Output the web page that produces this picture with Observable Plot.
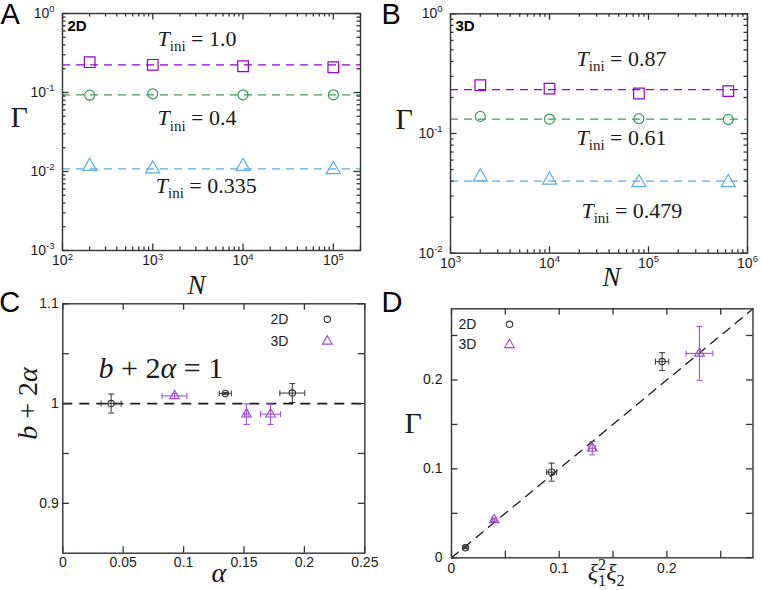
<!DOCTYPE html>
<html><head><meta charset="utf-8">
<script src="https://cdn.jsdelivr.net/npm/d3@7"></script>
<script src="https://cdn.jsdelivr.net/npm/@observablehq/plot@0.6"></script>
<style>
body{margin:0;background:#fff;}
#fig{position:relative;width:762px;height:590px;overflow:hidden;background:#fff;}
#fig svg{position:absolute;overflow:visible;background:transparent;}
</style></head><body><div id="fig"></div>
<script>
// ---------- Panel A (2D) ----------
const nA = [200, 1000, 10000, 100000];
const gammaA_T10 = [0.242, 0.224, 0.215, 0.209];
const gammaA_T04 = [0.0924, 0.0963, 0.0935, 0.0935];
const gammaA_T0335 = [0.0116, 0.0108, 0.0116, 0.0106];
const fitA = [0.224, 0.0935, 0.0108];
const labelsA = ["*T*_{ini} = 1.0", "*T*_{ini} = 0.4", "*T*_{ini} = 0.335"];
const xTicksA = [1e2, 1e3, 1e4, 1e5];
const yTicksA = [1e-3, 1e-2, 1e-1, 1];

// ---------- Panel B (3D) ----------
const nB = [2000, 10000, 80000, 640000];
const gammaB_T087 = [0.253, 0.237, 0.216, 0.226];
const gammaB_T061 = [0.139, 0.132, 0.133, 0.131];
const gammaB_T0479 = [0.0435, 0.0408, 0.0389, 0.0389];
const fitB = [0.233, 0.132, 0.040];
const labelsB = ["*T*_{ini} = 0.87", "*T*_{ini} = 0.61", "*T*_{ini} = 0.479"];
const xTicksB = [1e3, 1e4, 1e5, 1e6];
const yTicksB = [1e-2, 1e-1, 1];

// ---------- Panel C ----------
const c2D_alpha = [0.040, 0.1345, 0.190];
const c2D_alphaErr = [0.0083, 0.005, 0.0103];
const c2D_val = [1.000, 1.0102, 1.0105];
const c2D_valErr = [0.0095, 0.001, 0.0095];
const c3D_alpha = [0.0925, 0.152, 0.172];
const c3D_alphaErr = [0.0103, 0.0015, 0.0083];
const c3D_val = [1.0077, 0.9894, 0.9894];
const c3D_valErr = [0.0025, 0.0103, 0.0103];
const cRef = [1];
const cXTicks = [0, 0.05, 0.1, 0.15, 0.2, 0.25];
const cYTicks = [0.9, 0.95, 1, 1.05, 1.1];
const cYLabels = [0.9, 1, 1.1];

// ---------- Panel D ----------
const d2D_x = [0.013, 0.093, 0.1956];
const d2D_xErr = [0.0015, 0.0046, 0.0062];
const d2D_y = [0.0112, 0.0963, 0.2206];
const d2D_yErr = [0.001, 0.0101, 0.0101];
const d3D_x = [0.0396, 0.1307, 0.2303];
const d3D_xErr = [0.002, 0.003, 0.0124];
const d3D_y = [0.0427, 0.1232, 0.2299];
const d3D_yErr = [0.002, 0.0075, 0.0303];
const dDomain = [0, 0.28];
const dTicks = [0, 0.05, 0.1, 0.15, 0.2, 0.25];
const dLabels = [0, 0.1, 0.2];

const legendLabels = ["2D", "3D"];
const panelLetters = ["A", "B", "C", "D"];

// ---------- styles ----------
const SANS = "Liberation Sans, Arial, Helvetica, sans-serif";
const SERIF = "Liberation Serif, Times New Roman, serif";
const PURPLE = "#9400d3", GREEN = "#3c9a5e", BLUE = "#5aaee2";
const DARK = "#333333", PURPLE2 = "#9a45d0";
const FRAME = "#333333";

const logLabel = d => "10^{" + Math.round(Math.log10(d)) + "}";
function minorLog(lo, hi, max) {
  const out = [];
  for (let e = lo; e < hi; e++) for (let m = 2; m <= 9; m++) { const v = m * 10 ** e; if (v <= max) out.push(v); }
  return out;
}

// inward ticks: tick marks spanning the frame, inset so only a short stub at each edge remains
function edgeTicks(vals, len, isX, dims) {
  const fw = dims.width - dims.marginLeft - dims.marginRight;
  const fh = dims.height - dims.marginTop - dims.marginBottom;
  const o = {stroke: FRAME, strokeWidth: 1.3};
  if (isX) return [
    Plot.tickX(vals, {...o, x: d => d, insetTop: fh - len}),
    Plot.tickX(vals, {...o, x: d => d, insetBottom: fh - len})
  ];
  return [
    Plot.tickY(vals, {...o, y: d => d, insetRight: fw - len}),
    Plot.tickY(vals, {...o, y: d => d, insetLeft: fw - len})
  ];
}
function frameAxes(dims, {xMajor, xMinor = [], yMajor, yMinor = [], xLabels, yLabels, xFmt, yFmt, xPad = 4, yPad = 5, major = 6.5, minor = 3.5}) {
  const common = {label: null, fontSize: 14, fontFamily: SANS};
  return [
    Plot.axisX(xLabels, {...common, anchor: "bottom", tickSize: 0, tickPadding: xPad, tickFormat: xFmt}),
    Plot.axisY(yLabels, {...common, anchor: "left", tickSize: 0, tickPadding: yPad, tickFormat: yFmt}),
    ...edgeTicks(xMajor, major, true, dims),
    ...(xMinor.length ? edgeTicks(xMinor, minor, true, dims) : []),
    ...edgeTicks(yMajor, major, false, dims),
    ...(yMinor.length ? edgeTicks(yMinor, minor, false, dims) : [])
  ];
}

function rows(xs, ys) { return xs.map((x, i) => ({x, y: ys[i]})); }
function errRows(xs, xe, ys, ye) { return xs.map((x, i) => ({x, xe: xe[i], y: ys[i], ye: ye[i]})); }

const capH = {draw(ctx) { ctx.moveTo(-3, 0); ctx.lineTo(3, 0); }};
const capV = {draw(ctx) { ctx.moveTo(0, -3); ctx.lineTo(0, 3); }};

function errorMarks(data, color, symbol, r) {
  return [
    Plot.ruleX(data, {x: "x", y1: d => d.y - d.ye, y2: d => d.y + d.ye, stroke: color, strokeWidth: 1}),
    Plot.ruleY(data, {y: "y", x1: d => d.x - d.xe, x2: d => d.x + d.xe, stroke: color, strokeWidth: 1}),
    Plot.dot(data, {x: "x", y: d => d.y - d.ye, symbol: capH, stroke: color, strokeWidth: 1}),
    Plot.dot(data, {x: "x", y: d => d.y + d.ye, symbol: capH, stroke: color, strokeWidth: 1}),
    Plot.dot(data, {x: d => d.x - d.xe, y: "y", symbol: capV, stroke: color, strokeWidth: 1}),
    Plot.dot(data, {x: d => d.x + d.xe, y: "y", symbol: capV, stroke: color, strokeWidth: 1}),
    Plot.dot(data, {x: "x", y: "y", symbol, r, stroke: color, strokeWidth: 1.1, fill: "none"})
  ];
}

function label(text, opts) {
  return Plot.text([text], {text: d => d, fill: "#1a1a1a", lineAnchor: "middle", ...opts});
}
function letter(text, dx, dy) {
  return Plot.text([text], {text: d => d, frameAnchor: "top-left", dx, dy, textAnchor: "start", lineAnchor: "top", fontSize: 29, fontFamily: SANS, fill: "#000"});
}

const base = {style: {background: "transparent", color: "#1a1a1a", overflow: "visible"}};

// ---------- build A ----------
const dimsA = {width: 381, height: 295, marginLeft: 62, marginRight: 21, marginTop: 13, marginBottom: 45};
const plotA = Plot.plot({
  ...base, ...dimsA,
  x: {type: "log", domain: [100, 2e5], axis: null},
  y: {type: "log", domain: [1e-3, 1], axis: null},
  marks: [
    Plot.ruleY([fitA[0]], {stroke: PURPLE, strokeDasharray: "8,6", strokeWidth: 1.2}),
    Plot.ruleY([fitA[1]], {stroke: GREEN, strokeDasharray: "8,6", strokeWidth: 1.2}),
    Plot.ruleY([fitA[2]], {stroke: BLUE, strokeDasharray: "8,6", strokeWidth: 1.2}),
    Plot.dot(rows(nA, gammaA_T10), {x: "x", y: "y", symbol: "square", r: 6, stroke: PURPLE, strokeWidth: 1.2}),
    Plot.dot(rows(nA, gammaA_T04), {x: "x", y: "y", symbol: "circle", r: 5, stroke: GREEN, strokeWidth: 1.2}),
    Plot.dot(rows(nA, gammaA_T0335), {x: "x", y: "y", symbol: "triangle", r: 5.2, stroke: BLUE, strokeWidth: 1.2}),
    label(labelsA[0], {x: 1130, y: 0.48, textAnchor: "start", fontSize: 22, fontFamily: SERIF}),
    label(labelsA[1], {x: 1130, y: 0.047, textAnchor: "start", fontSize: 22, fontFamily: SERIF}),
    label(labelsA[2], {x: 1080, y: 0.0066, textAnchor: "start", fontSize: 22, fontFamily: SERIF}),
    label(legendLabels[0], {frameAnchor: "top-left", dx: 5, dy: 13, textAnchor: "start", fontSize: 15, fontWeight: "bold", fontFamily: SANS, fill: "#000"}),
    label("*N*", {frameAnchor: "bottom", dx: -15, dy: 35, fontSize: 27, fontFamily: SERIF}),
    label("Γ", {frameAnchor: "left", dx: -52, dy: -14.5, fontSize: 30, fontFamily: SERIF}),
    letter(panelLetters[0], -62, -10),
    ...frameAxes(dimsA, {xMajor: xTicksA, xMinor: minorLog(2, 6, 2e5), yMajor: yTicksA, yMinor: minorLog(-3, 0, 1),
      xLabels: xTicksA, yLabels: yTicksA, xFmt: logLabel, yFmt: logLabel, xPad: 5, yPad: 8}),
    Plot.frame({stroke: FRAME, strokeWidth: 1.4})
  ]
});

// ---------- build B ----------
const dimsB = {width: 381, height: 295, marginLeft: 69, marginRight: 15, marginTop: 13.3, marginBottom: 42.3};
const plotB = Plot.plot({
  ...base, ...dimsB,
  x: {type: "log", domain: [1e3, 1e6], axis: null},
  y: {type: "log", domain: [1e-2, 1], axis: null},
  marks: [
    Plot.ruleY([fitB[0]], {stroke: PURPLE, strokeDasharray: "8,6", strokeWidth: 1.2}),
    Plot.ruleY([fitB[1]], {stroke: GREEN, strokeDasharray: "8,6", strokeWidth: 1.2}),
    Plot.ruleY([fitB[2]], {stroke: BLUE, strokeDasharray: "8,6", strokeWidth: 1.2}),
    Plot.dot(rows(nB, gammaB_T087), {x: "x", y: "y", symbol: "square", r: 6, stroke: PURPLE, strokeWidth: 1.2}),
    Plot.dot(rows(nB, gammaB_T061), {x: "x", y: "y", symbol: "circle", r: 5, stroke: GREEN, strokeWidth: 1.2}),
    Plot.dot(rows(nB, gammaB_T0479), {x: "x", y: "y", symbol: "triangle", r: 5.2, stroke: BLUE, strokeWidth: 1.2}),
    label(labelsB[0], {x: 18750, y: 0.423, textAnchor: "start", fontSize: 22, fontFamily: SERIF}),
    label(labelsB[1], {x: 18750, y: 0.0926, textAnchor: "start", fontSize: 22, fontFamily: SERIF}),
    label(labelsB[2], {x: 21000, y: 0.0227, textAnchor: "start", fontSize: 22, fontFamily: SERIF}),
    label(legendLabels[1], {frameAnchor: "top-left", dx: 5, dy: 12.7, textAnchor: "start", fontSize: 15, fontWeight: "bold", fontFamily: SANS, fill: "#000"}),
    label("*N*", {frameAnchor: "bottom", dx: 12.5, dy: 24.5, fontSize: 27, fontFamily: SERIF}),
    label("Γ", {frameAnchor: "left", dx: -55, dy: -14, fontSize: 30, fontFamily: SERIF}),
    letter(panelLetters[1], -69, -10.3),
    ...frameAxes(dimsB, {xMajor: xTicksB, xMinor: minorLog(3, 6, 1e6), yMajor: yTicksB, yMinor: minorLog(-2, 0, 1),
      xLabels: xTicksB, yLabels: yTicksB, xFmt: logLabel, yFmt: logLabel, xPad: 5, yPad: 8}),
    Plot.frame({stroke: FRAME, strokeWidth: 1.4})
  ]
});

// ---------- build C ----------
const c2D = errRows(c2D_alpha, c2D_alphaErr, c2D_val, c2D_valErr);
const c3D = errRows(c3D_alpha, c3D_alphaErr, c3D_val, c3D_valErr);
const dimsC = {width: 381, height: 310, marginLeft: 62.3, marginRight: 16.7, marginTop: 23.3, marginBottom: 37.3};
const plotC = Plot.plot({
  ...base, ...dimsC,
  x: {domain: [0, 0.25], axis: null},
  y: {domain: [0.85, 1.1], axis: null},
  marks: [
    Plot.ruleY(cRef, {stroke: "#1a1a1a", strokeDasharray: "10,7", strokeWidth: 1.8}),
    ...errorMarks(c2D, DARK, "circle", 3.2),
    ...errorMarks(c3D, PURPLE2, "triangle", 3.6),
    label(legendLabels[0], {frameAnchor: "top-right", dx: -94.3, dy: 16, textAnchor: "start", fontSize: 14, fontFamily: SANS}),
    label(legendLabels[1], {frameAnchor: "top-right", dx: -94.3, dy: 37.7, textAnchor: "start", fontSize: 14, fontFamily: SANS}),
    Plot.dot([legendLabels[0]], {frameAnchor: "top-right", dx: -37.5, dy: 15.5, symbol: "circle", r: 3.2, stroke: DARK, strokeWidth: 1.1}),
    Plot.dot([legendLabels[1]], {frameAnchor: "top-right", dx: -37.5, dy: 37.5, symbol: "triangle", r: 3.6, stroke: PURPLE2, strokeWidth: 1.1}),
    label("*b* + 2*α* = 1", {x: 0.0296, y: 1.0356, textAnchor: "start", fontSize: 30, fontFamily: SERIF}),
    label("*α*", {frameAnchor: "bottom", dx: 5, dy: 20, fontSize: 28, fontFamily: SERIF}),
    label("*b* + 2*α*", {x: 0, y: 1, dx: -35, rotate: -90, fontSize: 28, fontFamily: SERIF}),
    letter(panelLetters[2], -63.5, -12.8),
    ...frameAxes(dimsC, {xMajor: cXTicks, yMajor: cYTicks, xLabels: cXTicks, yLabels: cYLabels,
      xFmt: d => String(d), yFmt: d => String(d), xPad: 4, yPad: 4}),
    Plot.frame({stroke: FRAME, strokeWidth: 1.4})
  ]
});

// ---------- build D ----------
const d2D = errRows(d2D_x, d2D_xErr, d2D_y, d2D_yErr);
const d3D = errRows(d3D_x, d3D_xErr, d3D_y, d3D_yErr);
const dimsD = {width: 381, height: 310, marginLeft: 70, marginRight: 9.5, marginTop: 28.3, marginBottom: 32.7};
const plotD = Plot.plot({
  ...base, ...dimsD,
  x: {domain: dDomain, axis: null},
  y: {domain: dDomain, axis: null},
  marks: [
    Plot.line(dDomain, {x: d => d, y: d => d, stroke: "#1a1a1a", strokeDasharray: "9,7", strokeWidth: 1.3}),
    ...errorMarks(d2D, DARK, "circle", 3.2),
    ...errorMarks(d3D, PURPLE2, "triangle", 3.6),
    label(legendLabels[0], {frameAnchor: "top-left", dx: 7, dy: 15.7, textAnchor: "start", fontSize: 14, fontFamily: SANS}),
    label(legendLabels[1], {frameAnchor: "top-left", dx: 7, dy: 36, textAnchor: "start", fontSize: 14, fontFamily: SANS}),
    Plot.dot([legendLabels[0]], {frameAnchor: "top-left", dx: 58, dy: 15.5, symbol: "circle", r: 3.2, stroke: DARK, strokeWidth: 1.1}),
    Plot.dot([legendLabels[1]], {frameAnchor: "top-left", dx: 58, dy: 36, symbol: "triangle", r: 3.6, stroke: PURPLE2, strokeWidth: 1.1}),
    label("*ξ*_{1}^{2}*ξ*_{2}", {frameAnchor: "bottom", dx: 4, dy: 15, fontSize: 24, fontFamily: SERIF}),
    label("Γ", {frameAnchor: "left", dx: -47, dy: -10, fontSize: 30, fontFamily: SERIF}),
    letter(panelLetters[3], -70, -17.8),
    ...frameAxes(dimsD, {xMajor: dTicks, yMajor: dTicks, xLabels: dLabels, yLabels: dLabels,
      xFmt: d => String(d), yFmt: d => String(d), xPad: 5, yPad: 9}),
    Plot.frame({stroke: FRAME, strokeWidth: 1.4})
  ]
});

// ---------- place ----------
const fig = document.getElementById("fig");
const place = [[plotA, 0, 0], [plotB, 381, 0], [plotC, 0, 280], [plotD, 381, 280]];
for (const [p, left, top] of place) {
  p.style.left = left + "px";
  p.style.top = top + "px";
  fig.appendChild(p);
}

// ---------- rich text (italic / sub / sup) as real SVG tspans ----------
function parseRich(s) {
  const segs = []; let italic = false, shift = 0, buf = "";
  const push = () => { if (buf) segs.push({t: buf, italic, shift}); buf = ""; };
  for (let i = 0; i < s.length; i++) {
    const c = s[i];
    if (c === "*") { push(); italic = !italic; }
    else if ((c === "_" || c === "^") && s[i + 1] === "{") { push(); shift = c === "_" ? -1 : 1; i++; }
    else if (c === "}" && shift) { push(); shift = 0; }
    else buf += c;
  }
  push();
  return segs;
}
function richify(svg) {
  svg.querySelectorAll("text").forEach(el => {
    if (el.querySelector("tspan")) return;
    const s = el.textContent;
    if (!/\*|[_^]\{/.test(s)) return;
    const fs = parseFloat(getComputedStyle(el).fontSize) || 14;
    const segs = parseRich(s);
    el.textContent = "";
    let cur = 0, prev = null, prevShift = 0;
    for (const seg of segs) {
      const t = document.createElementNS("http://www.w3.org/2000/svg", "tspan");
      t.textContent = seg.t;
      if (seg.italic) t.setAttribute("font-style", "italic");
      const target = seg.shift === 1 ? -0.42 * fs : seg.shift === -1 ? 0.24 * fs : 0;
      if (seg.shift) t.setAttribute("font-size", (0.68 * fs).toFixed(2));
      if (target !== cur) t.setAttribute("dy", (target - cur).toFixed(2));
      cur = target;
      el.appendChild(t);
      if (seg.shift === 1 && prevShift === -1 && prev) {
        t.setAttribute("dx", (-prev.getComputedTextLength()).toFixed(2));
      }
      prev = t; prevShift = seg.shift;
    }
  });
}
for (const [p] of place) richify(p);
</script></body></html>
